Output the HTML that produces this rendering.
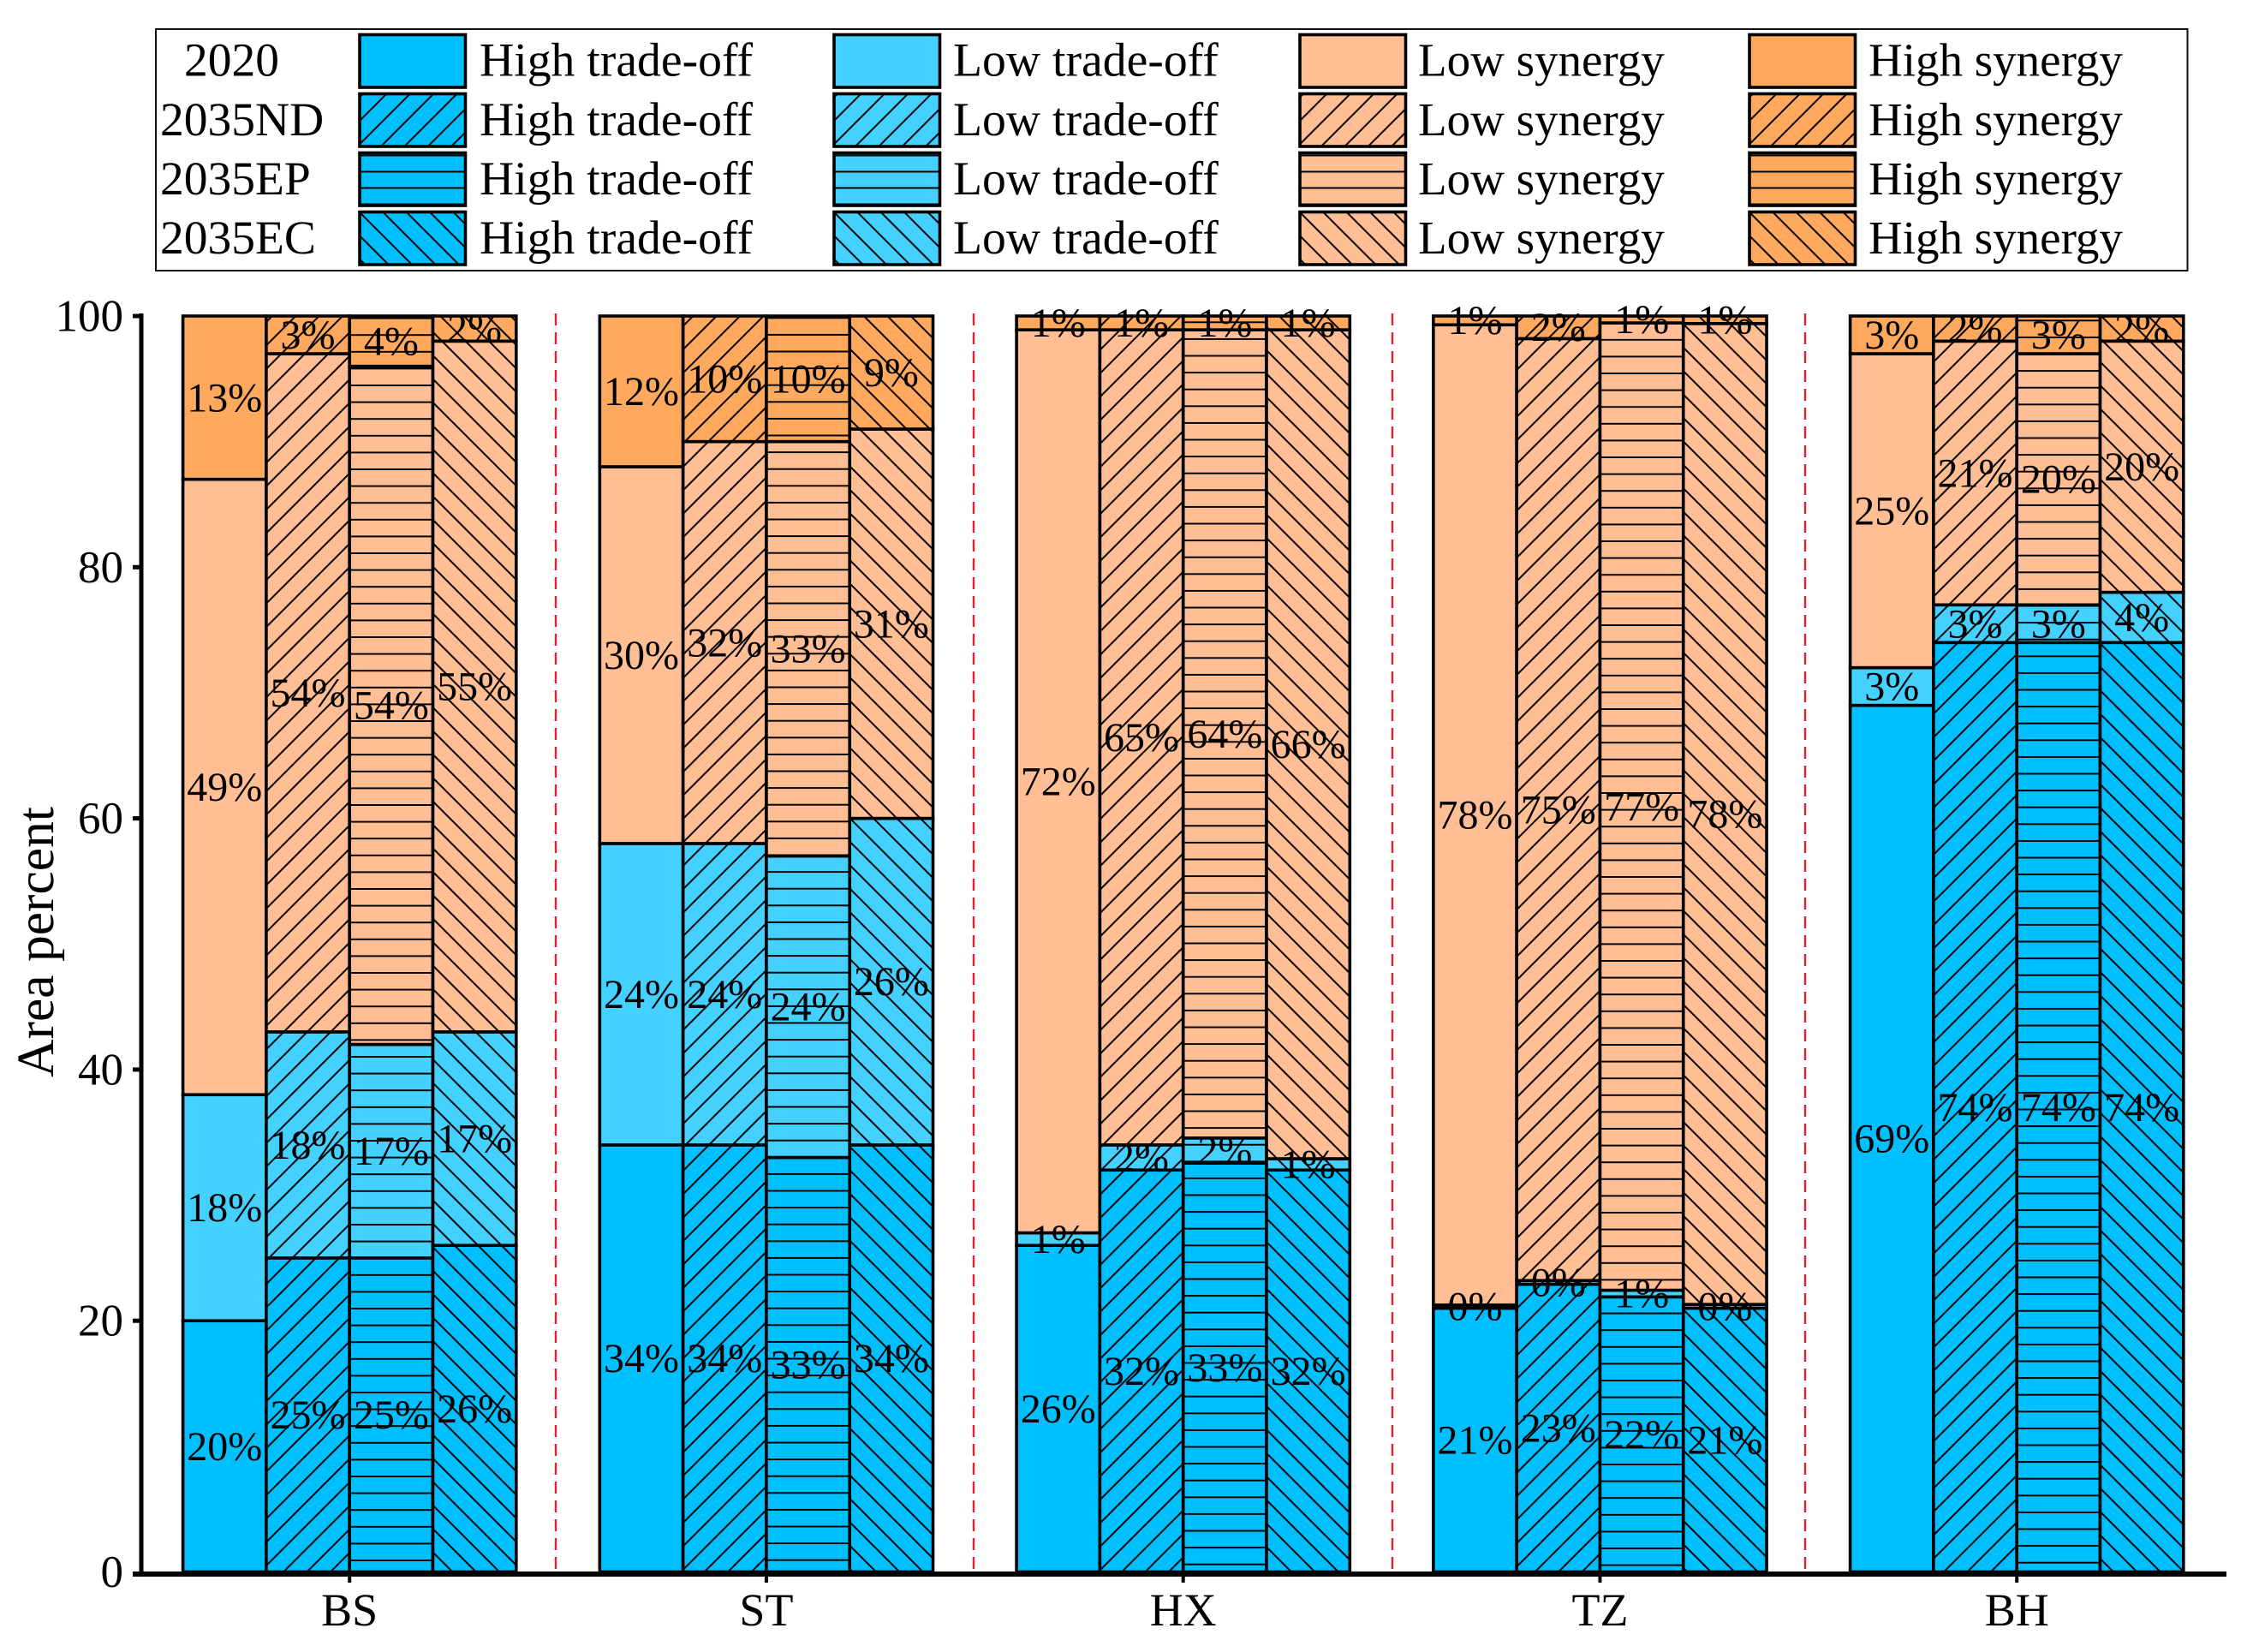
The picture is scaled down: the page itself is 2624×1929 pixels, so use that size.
<!DOCTYPE html>
<html lang="en">
<head>
<meta charset="utf-8">
<title>Area percent stacked bars by region and scenario</title>
<style>
html,body{margin:0;padding:0;background:#fff;width:2624px;height:1929px;overflow:hidden}
svg{display:block}
text{font-family:"Liberation Serif","Times New Roman",serif;fill:#000;text-rendering:geometricPrecision}
</style>
</head>
<body>
<svg id="chart" xmlns="http://www.w3.org/2000/svg" width="2624" height="1929" viewBox="0 0 2624 1929">
<defs>
  <pattern id="nd-0" patternUnits="userSpaceOnUse" width="27.4" height="27.4" patternTransform="translate(1.9,0)"><path d="M-2,29.4L29.4,-2M-2,2L2,-2M25.4,29.4L29.4,25.4" stroke="#000" stroke-width="2" fill="none"/></pattern>
  <pattern id="nd-1" patternUnits="userSpaceOnUse" width="27.4" height="27.4" patternTransform="translate(0.2,0)"><path d="M-2,29.4L29.4,-2M-2,2L2,-2M25.4,29.4L29.4,25.4" stroke="#000" stroke-width="2" fill="none"/></pattern>
  <pattern id="nd-2" patternUnits="userSpaceOnUse" width="27.4" height="27.4" patternTransform="translate(21.8,0)"><path d="M-2,29.4L29.4,-2M-2,2L2,-2M25.4,29.4L29.4,25.4" stroke="#000" stroke-width="2" fill="none"/></pattern>
  <pattern id="nd-3" patternUnits="userSpaceOnUse" width="27.4" height="27.4" patternTransform="translate(11.2,0)"><path d="M-2,29.4L29.4,-2M-2,2L2,-2M25.4,29.4L29.4,25.4" stroke="#000" stroke-width="2" fill="none"/></pattern>
  <pattern id="nd-4" patternUnits="userSpaceOnUse" width="27.4" height="27.4" patternTransform="translate(22.8,0)"><path d="M-2,29.4L29.4,-2M-2,2L2,-2M25.4,29.4L29.4,25.4" stroke="#000" stroke-width="2" fill="none"/></pattern>

  <pattern id="ep-0" patternUnits="userSpaceOnUse" width="40" height="19.6" patternTransform="translate(0,18.8)"><path d="M-1,0H41M-1,19.6H41" stroke="#000" stroke-width="2" fill="none"/></pattern>
  <pattern id="ep-1" patternUnits="userSpaceOnUse" width="40" height="19.6" patternTransform="translate(0,18.5)"><path d="M-1,0H41M-1,19.6H41" stroke="#000" stroke-width="2" fill="none"/></pattern>
  <pattern id="ep-2" patternUnits="userSpaceOnUse" width="40" height="19.6" patternTransform="translate(0,3.9)"><path d="M-1,0H41M-1,19.6H41" stroke="#000" stroke-width="2" fill="none"/></pattern>
  <pattern id="ep-3" patternUnits="userSpaceOnUse" width="40" height="19.6" patternTransform="translate(0,4.8)"><path d="M-1,0H41M-1,19.6H41" stroke="#000" stroke-width="2" fill="none"/></pattern>
  <pattern id="ep-4" patternUnits="userSpaceOnUse" width="40" height="19.6" patternTransform="translate(0,1.9)"><path d="M-1,0H41M-1,19.6H41" stroke="#000" stroke-width="2" fill="none"/></pattern>

  <pattern id="ec-0" patternUnits="userSpaceOnUse" width="27.4" height="27.4" patternTransform="translate(8.2,0)"><path d="M-2,-2L29.4,29.4M25.4,-2L29.4,2M-2,25.4L2,29.4" stroke="#000" stroke-width="2" fill="none"/></pattern>
  <pattern id="ec-1" patternUnits="userSpaceOnUse" width="27.4" height="27.4" patternTransform="translate(9.6,0)"><path d="M-2,-2L29.4,29.4M25.4,-2L29.4,2M-2,25.4L2,29.4" stroke="#000" stroke-width="2" fill="none"/></pattern>
  <pattern id="ec-2" patternUnits="userSpaceOnUse" width="27.4" height="27.4" patternTransform="translate(1.4,0)"><path d="M-2,-2L29.4,29.4M25.4,-2L29.4,2M-2,25.4L2,29.4" stroke="#000" stroke-width="2" fill="none"/></pattern>
  <pattern id="ec-3" patternUnits="userSpaceOnUse" width="27.4" height="27.4" patternTransform="translate(25.6,0)"><path d="M-2,-2L29.4,29.4M25.4,-2L29.4,2M-2,25.4L2,29.4" stroke="#000" stroke-width="2" fill="none"/></pattern>
  <pattern id="ec-4" patternUnits="userSpaceOnUse" width="27.4" height="27.4" patternTransform="translate(2.4,0)"><path d="M-2,-2L29.4,29.4M25.4,-2L29.4,2M-2,25.4L2,29.4" stroke="#000" stroke-width="2" fill="none"/></pattern>

  <pattern id="lg-nd" patternUnits="userSpaceOnUse" width="27.4" height="27.4" patternTransform="translate(4.1,0)"><path d="M-2,29.4L29.4,-2M-2,2L2,-2M25.4,29.4L29.4,25.4" stroke="#000" stroke-width="2" fill="none"/></pattern>
  <pattern id="lg-ep" patternUnits="userSpaceOnUse" width="40" height="19" patternTransform="translate(0,3)"><path d="M-1,0H41M-1,19H41" stroke="#000" stroke-width="2" fill="none"/></pattern>
  <pattern id="lg-ec" patternUnits="userSpaceOnUse" width="27.4" height="27.4" patternTransform="translate(27,0)"><path d="M-2,-2L29.4,29.4M25.4,-2L29.4,2M-2,25.4L2,29.4" stroke="#000" stroke-width="2" fill="none"/></pattern>
</defs>

<rect x="0" y="0" width="2624" height="1929" fill="#fff"/>
<rect x="182" y="34" width="2372.5" height="282" fill="#fff" stroke="#111" stroke-width="2"/>

<g stroke="#E8202F" stroke-width="2.4" stroke-dasharray="14 8" fill="none">
  <line x1="649" y1="366" x2="649" y2="1832"/>
  <line x1="1137" y1="366" x2="1137" y2="1832"/>
  <line x1="1626" y1="366" x2="1626" y2="1832"/>
  <line x1="2108" y1="366" x2="2108" y2="1832"/>
</g>

<g id="legend"></g>
<g id="bars"></g>
<g id="labels"></g>
<g id="axes"></g>
<text transform="translate(62,1100) rotate(-90)" font-size="61.5" text-anchor="middle">Area percent</text>
</svg>

<script>
const regions = ['BS', 'ST', 'HX', 'TZ', 'BH'];
const scenarios = ['2020', '2035ND', '2035EP', '2035EC'];
const categories = ['High trade-off', 'Low trade-off', 'Low synergy', 'High synergy'];
const yTicks = [0, 20, 40, 60, 80, 100];

// One row per region, one column per scenario (percent of area)
const highTradeOff = [
  [20, 25, 25, 26],
  [34, 34, 33, 34],
  [26, 32, 32.55, 32],
  [21, 22.9, 21.9, 21],
  [69, 74, 74, 74]
];
const lowTradeOff = [
  [18, 18, 17, 17],
  [24, 24, 24, 26],
  [1, 2, 2, 0.9],
  [0.25, 0.3, 0.53, 0.3],
  [3, 3, 3, 4]
];
const lowSynergy = [
  [49, 54, 54, 55],
  [30, 32, 33, 31],
  [71.9, 64.9, 64.35, 66],
  [78.05, 75, 77.02, 78.1],
  [25, 21, 20, 20]
];
const highSynergy = [
  [13, 3, 4, 2],
  [12, 10, 10, 9],
  [1.1, 1.1, 1.1, 1.1],
  [0.7, 1.8, 0.55, 0.6],
  [3, 2, 3, 2]
];

const series = [highTradeOff, lowTradeOff, lowSynergy, highSynergy];
const colors = ['#00BFFF', '#45D1FF', '#FFBE93', '#FFA95E'];
const hatchKeys = ['', 'nd', 'ep', 'ec'];

const NS = 'http://www.w3.org/2000/svg';
const plot = { y0: 1835.5, y100: 369, center0: 408.2, groupStep: 486.75, barW: 97.3 };
const yScale = v => plot.y0 - (v / 100) * (plot.y0 - plot.y100);
const groupCenter = g => plot.center0 + g * plot.groupStep;
const barLeft = (g, s) => groupCenter(g) + (s - 2) * plot.barW;

function make(tag, attrs, parent, txt) {
  const el = document.createElementNS(NS, tag);
  for (const k in attrs) el.setAttribute(k, attrs[k]);
  if (txt !== undefined) el.textContent = txt;
  parent.appendChild(el);
  return el;
}
const slug = s => s.toLowerCase().replace(/[^a-z0-9]+/g, '-');

/* ---------- bars ---------- */
const barsG = document.getElementById('bars');
const labelsG = document.getElementById('labels');
regions.forEach((region, g) => {
  scenarios.forEach((scenario, s) => {
    let cum = 0;
    const x = barLeft(g, s);
    categories.forEach((cat, c) => {
      const v = series[c][g][s];
      const top = yScale(cum + v);
      const bottom = yScale(cum);
      const fill = make('rect', { x: x, y: top, width: plot.barW, height: bottom - top, fill: colors[c] }, barsG);
      
      
      const outline = make('rect', {
        x: x, y: top, width: plot.barW, height: bottom - top,
        fill: s === 0 ? 'none' : 'url(#' + hatchKeys[s] + '-' + g + ')',
        stroke: '#000', 'stroke-width': 3.6
      }, barsG);
      
      
      const mid = yScale(cum + v / 2);
      const label = make('text', {
        x: x + plot.barW / 2, y: mid + 16, 'font-size': 48, 'text-anchor': 'middle'
      }, labelsG, Math.round(v) + '%');
      
      
      cum += v;
    });
  });
});

/* ---------- axes ---------- */
const axesG = document.getElementById('axes');
const yLine = make('rect', { x: 162.5, y: 366, width: 5, height: 1475, fill: '#000' }, axesG);


const xLine = make('rect', { x: 155, y: 1835, width: 2445, height: 6, fill: '#000' }, axesG);


yTicks.forEach(t => {
  const y = yScale(t);
  if (t > 0) {
    const tick = make('rect', { x: 155, y: y - 2.5, width: 10, height: 5, fill: '#000' }, axesG);
    
    
  }
  const lab = make('text', { x: 144, y: y + 17.5, 'font-size': 53, 'text-anchor': 'end' }, axesG, String(t));
  
  
});
regions.forEach((region, g) => {
  const cx = groupCenter(g);
  const tick = make('rect', { x: cx - 2, y: 1838, width: 4, height: 10, fill: '#000' }, axesG);
  
  
  const lab = make('text', { x: cx, y: 1898, 'font-size': 54, 'text-anchor': 'middle' }, axesG, region);
  
  
});

/* ---------- legend ---------- */
const legendG = document.getElementById('legend');
const rowTops = [40.5, 109.5, 178.5, 247.5];
const rowBase = [88.5, 158, 227, 296];
const swatchX = [420, 974, 1518, 2043];
const textX = [560, 1113, 1656, 2182];
const textSize = [55.7, 55.7, 55, 55];
const yearX = [215, 187, 187, 187];
scenarios.forEach((scenario, r) => {
  const yr = make('text', { x: yearX[r], y: rowBase[r], 'font-size': 55.5 }, legendG, scenario);
  
  
  categories.forEach((cat, c) => {
    const sw = make('g', { transform: 'translate(' + swatchX[c] + ',' + rowTops[r] + ')' }, legendG);
    
    
    make('rect', { x: 0, y: 0, width: 123.5, height: 61.5, fill: colors[c] }, sw);
    make('rect', {
      x: 0, y: 0, width: 123.5, height: 61.5,
      fill: r === 0 ? 'none' : 'url(#lg-' + hatchKeys[r] + ')',
      stroke: '#000', 'stroke-width': 3.6
    }, sw);
    const t = make('text', { x: textX[c], y: rowBase[r], 'font-size': textSize[c] }, legendG, cat);
    
    
  });
});
</script>
</body>
</html>
